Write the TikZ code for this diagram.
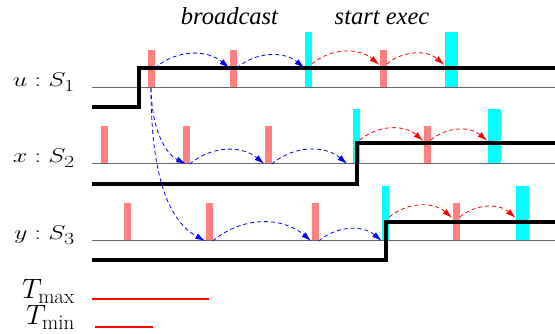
\RequirePackage{fix-cm}
\documentclass[tikz,border=0pt]{standalone}
\usepackage{fontspec}
\newfontfamily\timesfont{Liberation Serif}
\usetikzlibrary{arrows.meta, calc}
\definecolor{aqua}{RGB}{0,255,255}
\newcommand{\proclbl}[2]{\scalebox{1.3}[1]{$#1:S_{\mbox{\fontsize{17}{20}\selectfont$#2$}}$}}
\newcommand{\tlbl}[1]{$T_{\mbox{\fontsize{21}{25}\selectfont #1}}$}

\begin{document}
\begin{tikzpicture}[
    x=1pt, y=1pt,
    bar/.style={rectangle, inner sep=0pt, minimum width=7pt, anchor=south},
    tick/.style={bar, fill=red!50, minimum height=38pt},
    recv/.style={bar, fill=aqua, minimum height=56pt},
    wide/.style={recv, minimum width=13pt},
    state/.style={line width=4pt},
    axis/.style={draw=black!60, line width=1pt},
    msg/.style={-{Latex[length=10pt,width=6pt]}, dash pattern=on 4pt off 3pt, line width=0.8pt, bend left=40},
    bmsg/.style={msg, blue},
    rmsg/.style={msg, red},
    lbl/.style={anchor=base east, inner sep=0pt, font=\fontsize{20}{24}\selectfont},
    tlabel/.style={lbl, font=\fontsize{28}{33}\selectfont},
    phase/.style={anchor=base, font=\timesfont\itshape\fontsize{24.5}{28}\selectfont}
]
    \useasboundingbox (0,0) rectangle (555,334);

    % Phase titles
    \node[phase] (bc) at (229.5,309) {broadcast};
    \node[phase] (se) at (382,309) {start exec};

    % Process labels
    \node[lbl] (lu) at (75,247) {\proclbl{u}{1}};
    \node[lbl] (lx) at (75,171) {\proclbl{x}{2}};
    \node[lbl] (ly) at (75,94) {\proclbl{y}{3}};
    \node[tlabel] (tmax) at (75,35) {\tlbl{max}};
    \node[tlabel] (tmin) at (75,9) {\tlbl{min}};

    % Ticks and receive events, process u
    \node[tick] (u1) at (151,246) {};
    \node[tick] (u2) at (233,246) {};
    \node[recv] (u3) at (308,246) {};
    \node[tick] (u4) at (383,246) {};
    \node[wide] (u5) at (451,246) {};

    % process x
    \node[tick] (x1) at (104,170) {};
    \node[tick] (x2) at (186,170) {};
    \node[tick] (x3) at (268,170) {};
    \node[recv, minimum height=55pt] (x4) at (356,170) {};
    \node[tick] (x5) at (427,170) {};
    \node[wide, minimum height=55pt] (x6) at (494,170) {};

    % process y
    \node[tick] (y1) at (127.5,93) {};
    \node[tick] (y2) at (209,93) {};
    \node[tick] (y3) at (315,93) {};
    \node[recv, minimum height=55pt] (y4) at (385.5,93) {};
    \node[tick] (y5) at (456,93) {};
    \node[wide, minimum height=55pt] (y6) at (522.5,93) {};

    % Time axes
    \draw[axis] (92,246) -- (555,246);
    \draw[axis] (92,170) -- (555,170);
    \draw[axis] (92,93) -- (555,93);

    % State steps
    \draw[state] (92,227) -- (138.5,227) -- (138.5,266) -- (555,266);
    \draw[state] (92,150) -- (357,150) -- (357,191) -- (555,191);
    \draw[state] (92,74) -- (386,74) -- (386,112) -- (555,112);

    % Broadcast messages
    \draw[bmsg] ($(u1.south east)+(0,20)$) to ($(u2.south west)+(0,20)$);
    \draw[bmsg] ($(u2.south east)+(0,20)$) to ($(u3.south west)+(0,20)$);
    \draw[bmsg] (u1.south) .. controls +(1,-47) and +(-18,9) .. (x2.south);
    \draw[bmsg] (u1.south) .. controls +(0,-92) and +(-35,19) .. (y2.south west);
    \draw[bmsg] (x2.south east) to (x3.south west);
    \draw[bmsg] (x3.south east) to ($(x4.south west)+(-5,0)$);
    \draw[bmsg] (y2.south east) to (y3.south west);
    \draw[bmsg] (y3.south east) to (y4.south west);

    % Execution messages
    \draw[rmsg] ($(u3.south east)+(0,24)$) to ($(u4.south west)+(0,23)$);
    \draw[rmsg] ($(u4.south east)+(0,24)$) to ($(u5.south west)+(0,23)$);
    \draw[rmsg] ($(x4.south east)+(0,24)$) to ($(x5.south west)+(0,23)$);
    \draw[rmsg] ($(x5.south east)+(0,24)$) to ($(x6.south west)+(0,23)$);
    \draw[rmsg] ($(y4.south east)+(0,24)$) to ($(y5.south west)+(0,23)$);
    \draw[rmsg] ($(y5.south east)+(0,24)$) to ($(y6.south west)+(0,23)$);

    % Legend
    \draw[red, line width=1.2pt] (92,35) -- (209,35);
    \draw[red, line width=1.6pt] (95,7) -- (153,7);
\end{tikzpicture}
\end{document}
